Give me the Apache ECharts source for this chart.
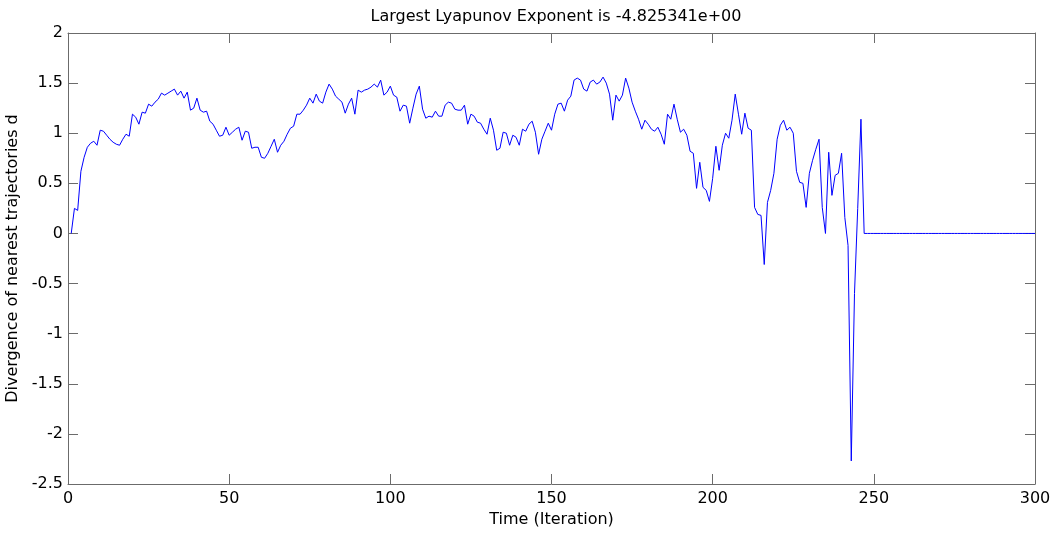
<!DOCTYPE html>
<html>
<head>
<meta charset="utf-8">
<title>Largest Lyapunov Exponent</title>
<script src="https://cdn.jsdelivr.net/npm/echarts@6/dist/echarts.min.js"></script>
<style>
  html, body { margin: 0; padding: 0; background: #fff; }
  #chart { width: 1055px; height: 533px; }
</style>
</head>
<body>
<div id="chart"></div>
<script>
// Divergence of nearest trajectories d, one value per iteration (1..300)
const divergence = [
  0.00, 0.25, 0.23, 0.62, 0.76, 0.86, 0.90, 0.92, 0.88, 1.03,
  1.02, 0.98, 0.94, 0.91, 0.89, 0.88, 0.94, 0.99, 0.97, 1.19,
  1.16, 1.09, 1.21, 1.20, 1.29, 1.27, 1.31, 1.34, 1.40, 1.38,
  1.40, 1.42, 1.44, 1.38, 1.42, 1.35, 1.41, 1.23, 1.25, 1.35,
  1.23, 1.21, 1.22, 1.12, 1.09, 1.03, 0.97, 0.98, 1.06, 0.98,
  1.01, 1.04, 1.06, 0.93, 1.02, 1.01, 0.85, 0.86, 0.86, 0.76,
  0.75, 0.80, 0.87, 0.94, 0.81, 0.88, 0.92, 0.99, 1.05, 1.07,
  1.19, 1.19, 1.23, 1.28, 1.35, 1.30, 1.39, 1.32, 1.30, 1.41,
  1.49, 1.44, 1.37, 1.34, 1.31, 1.20, 1.29, 1.35, 1.19, 1.43,
  1.41, 1.43, 1.44, 1.46, 1.49, 1.46, 1.53, 1.38, 1.41, 1.47,
  1.38, 1.36, 1.22, 1.28, 1.27, 1.10, 1.25, 1.39, 1.47, 1.24,
  1.15, 1.17, 1.16, 1.22, 1.17, 1.17, 1.28, 1.31, 1.30, 1.24,
  1.23, 1.23, 1.28, 1.09, 1.19, 1.17, 1.11, 1.10, 1.04, 0.99,
  1.15, 1.03, 0.83, 0.85, 1.01, 1.00, 0.88, 0.98, 0.96, 0.88,
  1.04, 1.02, 1.09, 1.12, 1.01, 0.79, 0.94, 1.02, 1.10, 1.03,
  1.19, 1.29, 1.30, 1.22, 1.33, 1.37, 1.53, 1.55, 1.53, 1.44,
  1.42, 1.51, 1.53, 1.49, 1.51, 1.56, 1.50, 1.39, 1.13, 1.38,
  1.32, 1.38, 1.55, 1.45, 1.31, 1.22, 1.14, 1.04, 1.13, 1.09,
  1.04, 1.02, 1.06, 0.99, 0.89, 1.19, 1.14, 1.29, 1.14, 1.01,
  1.04, 0.98, 0.82, 0.80, 0.45, 0.71, 0.46, 0.43, 0.32, 0.55,
  0.87, 0.63, 0.88, 1.00, 0.95, 1.13, 1.39, 1.19, 0.99, 1.20,
  1.05, 1.03, 0.26, 0.19, 0.18, -0.31, 0.31, 0.43, 0.60, 0.94,
  1.08, 1.13, 1.03, 1.06, 1.00, 0.62, 0.51, 0.50, 0.26, 0.60,
  0.73, 0.84, 0.94, 0.26, 0.00, 0.81, 0.38, 0.58, 0.60, 0.80,
  0.16, -0.12, -2.27, -0.60, 0.25, 1.14, 0.00, 0.00, 0.00, 0.00,
  0.00, 0.00, 0.00, 0.00, 0.00, 0.00, 0.00, 0.00, 0.00, 0.00,
  0.00, 0.00, 0.00, 0.00, 0.00, 0.00, 0.00, 0.00, 0.00, 0.00,
  0.00, 0.00, 0.00, 0.00, 0.00, 0.00, 0.00, 0.00, 0.00, 0.00,
  0.00, 0.00, 0.00, 0.00, 0.00, 0.00, 0.00, 0.00, 0.00, 0.00,
  0.00, 0.00, 0.00, 0.00, 0.00, 0.00, 0.00, 0.00, 0.00, 0.00
];

// Axis ranges and tick steps
const xRange = [0, 300];
const xStep = 50;
const yRange = [-2.5, 2];
const yStep = 0.5;

const lyapunovText = 'Largest Lyapunov Exponent is -4.825341e+00';
const xTitle = 'Time (Iteration)';
const yTitle = 'Divergence of nearest trajectories d';

const points = divergence.map((d, i) => [i + 1, d]);

const FONT = '"DejaVu Sans", Verdana, sans-serif';
const FONT_SIZE = 16;
const AXIS_COLOR = '#6b6b6b';

const chart = echarts.init(document.getElementById('chart'), null, { renderer: 'canvas' });

// One side of the boxed frame; the top and right copies carry ticks only
function boxAxis(kind, position, showLabels, extra) {
  const range = kind === 'x' ? xRange : yRange;
  const step = kind === 'x' ? xStep : yStep;
  return Object.assign({
    type: 'value',
    position: position,
    min: range[0],
    max: range[1],
    interval: step,
    splitLine: { show: false },
    axisLine: { show: true, onZero: false, lineStyle: { color: AXIS_COLOR, width: 1 } },
    axisTick: { show: true, inside: true, length: 10, lineStyle: { color: AXIS_COLOR, width: 1 } },
    axisLabel: {
      show: showLabels,
      color: '#000',
      fontFamily: FONT,
      fontSize: FONT_SIZE,
      margin: kind === 'x' ? 7 : 5,
      showMinLabel: true,
      showMaxLabel: true
    }
  }, extra || {});
}

chart.setOption({
  animation: false,
  backgroundColor: '#fff',
  title: {
    text: lyapunovText,
    left: 551,
    top: 4,
    textAlign: 'center',
    textStyle: { color: '#000', fontFamily: FONT, fontSize: FONT_SIZE, fontWeight: 'normal' }
  },
  grid: { left: 68, right: 20, top: 33, bottom: 49, containLabel: false, outerBoundsMode: 'none' },
  xAxis: [
    boxAxis('x', 'bottom', true, {
      name: xTitle,
      nameLocation: 'middle',
      nameGap: 27,
      nameTextStyle: { color: '#000', fontFamily: FONT, fontSize: FONT_SIZE }
    }),
    boxAxis('x', 'top', false)
  ],
  yAxis: [
    boxAxis('y', 'left', true, {
      name: yTitle,
      nameLocation: 'middle',
      nameRotate: 90,
      nameGap: 35,
      nameTextStyle: { color: '#000', fontFamily: FONT, fontSize: FONT_SIZE }
    }),
    boxAxis('y', 'right', false)
  ],
  series: [{
    type: 'line',
    xAxisIndex: 0,
    yAxisIndex: 0,
    data: points,
    showSymbol: false,
    symbol: 'none',
    lineStyle: { color: '#0000ff', width: 1 },
    emphasis: { disabled: true }
  }]
});
</script>
</body>
</html>
